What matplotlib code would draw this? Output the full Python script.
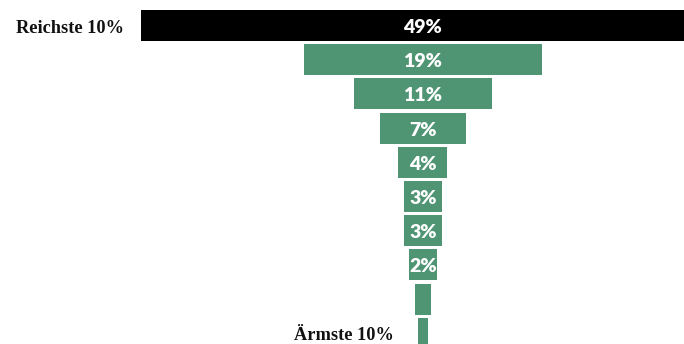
import matplotlib
matplotlib.use("Agg")
import matplotlib.pyplot as plt

# Data (top = richest decile, bottom = poorest decile)
deciles = ["Reichste 10%", "", "", "", "", "", "", "", "", "Ärmste 10%"]
shares = [49, 19, 11, 6.9, 3.9, 3.0, 3.0, 2.2, 1.3, 0.8]
value_labels = ["49%", "19%", "11%", "7%", "4%", "3%", "3%", "2%", "", ""]
bar_colors = ["#000000"] + ["#4f9473"] * 9

W, H = 684, 344
fig = plt.figure(figsize=(W / 100, H / 100), dpi=100)
ax_left_px = 141
ax = fig.add_axes([ax_left_px / W, 0, 1 - ax_left_px / W, 1])

px_per_unit = 12.5
center_px = 422.8
xl = -(center_px - ax_left_px) / px_per_unit
xr = (W - center_px) / px_per_unit
ax.set_xlim(xl, xr)

row0_px = 25.5
pitch = 34.2
ax.set_ylim((H - row0_px) / pitch, -row0_px / pitch)

ys = list(range(len(shares)))
lefts = [-v / 2 for v in shares]
ax.barh(ys, shares, left=lefts, height=0.906, color=bar_colors, edgecolor="none")

for y, v, lab in zip(ys, shares, value_labels):
    if lab:
        ax.annotate(lab, xy=(0, y), xytext=(0, -7.5), textcoords="offset pixels",
                    ha="center", va="baseline", color="white",
                    fontsize=14, fontweight="heavy", family=["Lato", "DejaVu Sans"])

serif = ["Liberation Serif", "DejaVu Serif"]
# richest label: left of clipped bar
ax.annotate(deciles[0], xy=(max(lefts[0], xl), 0), xytext=(-17, -7.5),
            textcoords="offset pixels", ha="right", va="baseline",
            fontsize=13.2, fontweight="bold", family=serif, color="#111111",
            annotation_clip=False)
ax.annotate(deciles[-1], xy=(lefts[-1], ys[-1]), xytext=(-24, -6.5),
            textcoords="offset pixels", ha="right", va="baseline",
            fontsize=13.2, fontweight="bold", family=serif, color="#111111",
            annotation_clip=False)

ax.axis("off")
fig.savefig("out.png", dpi=100)
